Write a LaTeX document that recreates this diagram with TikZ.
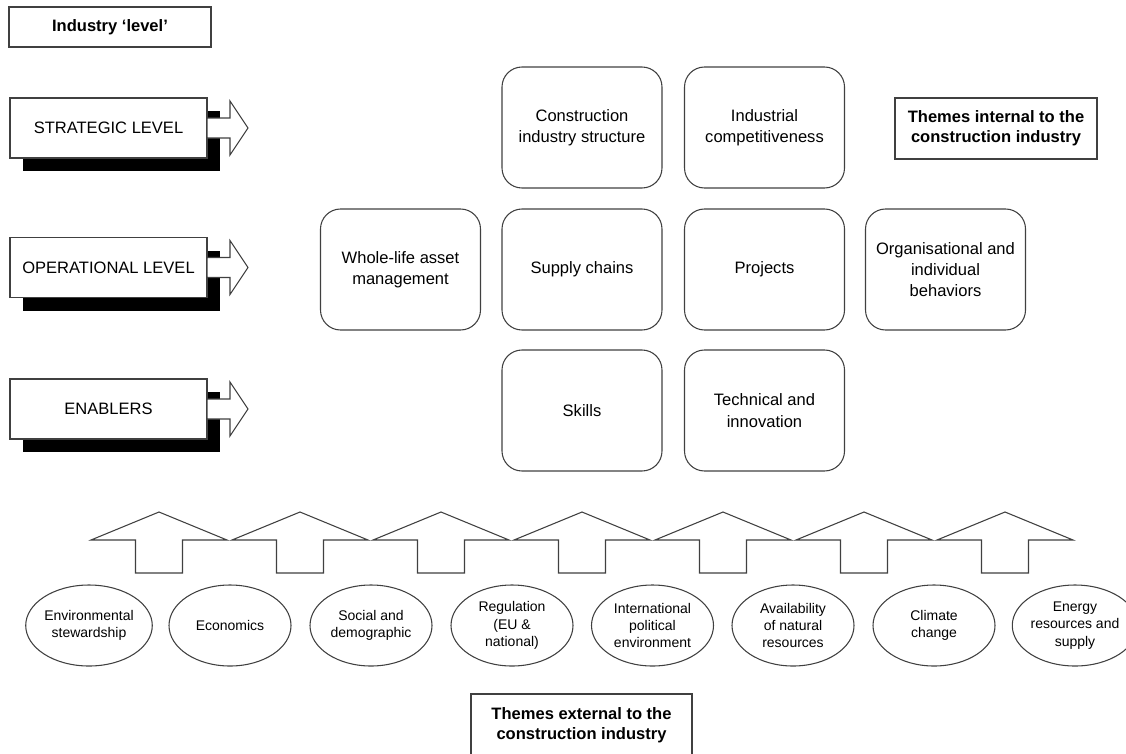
\documentclass[tikz,border=0pt]{standalone}
\usepackage{fontspec}
\setmainfont{Liberation Sans}
\usepackage{tikz}
\usetikzlibrary{shapes.geometric}
\definecolor{linegray}{RGB}{64,64,64}

\tikzset{
  labelbox/.style={draw=linegray,line width=.8pt,fill=white,align=center,inner sep=0pt,
    minimum width=151.5pt,font=\bfseries\fontsize{12.4}{15}\selectfont},
  levelbox/.style={draw=linegray,line width=.8pt,fill=white,inner sep=0pt,
    minimum width=147.75pt,minimum height=45pt,font=\fontsize{12.4}{15}\selectfont},
  themebox/.style={draw=linegray,line width=.8pt,rounded corners=15pt,align=center,inner sep=0pt,
    minimum width=120pt,minimum height=90.75pt,font=\fontsize{12.4}{16}\selectfont},
  driver/.style={draw=linegray,line width=.8pt,ellipse,align=center,inner sep=0pt,
    minimum width=91.5pt,minimum height=60.75pt,font=\fontsize{10.5}{13}\selectfont},
  levelarrow/.style={draw=linegray,line width=.8pt,fill=white,line join=miter},
  uparrow/.style={draw=linegray,line width=.8pt,fill=white,line join=miter}
}

\begin{document}
\begin{tikzpicture}[x=.75pt,y=-.75pt]
  \useasboundingbox (0,0) rectangle (1126,753);
  \node[labelbox,minimum height=30pt] (industry) at (110,27) {Industry `level'};
  % levels on the left, with their shadows and arrows
  \fill[black] (23,111) rectangle (220,171);
  \node[levelbox] (strategic) at (108.5,128) {STRATEGIC LEVEL};
  \filldraw[levelarrow] (207,118) -- (230,118) -- (230,101) -- (248,128) -- (230,155) -- (230,138) -- (207,138) -- cycle;
  \fill[black] (23,250.5) rectangle (220,310.5);
  \node[levelbox] (operational) at (108.5,267.5) {OPERATIONAL LEVEL};
  \filldraw[levelarrow] (207,257.5) -- (230,257.5) -- (230,240.5) -- (248,267.5) -- (230,294.5) -- (230,277.5) -- (207,277.5) -- cycle;
  \fill[black] (23,392) rectangle (220,452);
  \node[levelbox] (enablers) at (108.5,409) {ENABLERS};
  \filldraw[levelarrow] (207,399) -- (230,399) -- (230,382) -- (248,409) -- (230,436) -- (230,419) -- (207,419) -- cycle;
  % internal themes
  \node[themebox] (structure) at (582,127.5) {Construction\\industry structure};
  \node[themebox] (competitive) at (764.5,127.5) {Industrial\\competitiveness};
  \node[labelbox,minimum height=45.75pt] (internal) at (996,128.5) {Themes internal to the\\construction industry};
  \node[themebox] (asset) at (400.5,269.5) {Whole-life asset\\management};
  \node[themebox] (supply) at (582,269.5) {Supply chains};
  \node[themebox] (projects) at (764.5,269.5) {Projects};
  \node[themebox] (behaviour) at (945.5,269.5) {Organisational and\\individual\\behaviors};
  \node[themebox] (skills) at (582,410.5) {Skills};
  \node[themebox] (technical) at (764.5,410.5) {Technical and\\innovation};
  % arrows up from the external themes
  \filldraw[uparrow] (91,540) -- ++(68,-28) -- ++(68,28) -- ++(-44.5,0) -- ++(0,33) -- ++(-47,0) -- ++(0,-33) -- cycle;
  \filldraw[uparrow] (232,540) -- ++(68,-28) -- ++(68,28) -- ++(-44.5,0) -- ++(0,33) -- ++(-47,0) -- ++(0,-33) -- cycle;
  \filldraw[uparrow] (373,540) -- ++(68,-28) -- ++(68,28) -- ++(-44.5,0) -- ++(0,33) -- ++(-47,0) -- ++(0,-33) -- cycle;
  \filldraw[uparrow] (514,540) -- ++(68,-28) -- ++(68,28) -- ++(-44.5,0) -- ++(0,33) -- ++(-47,0) -- ++(0,-33) -- cycle;
  \filldraw[uparrow] (655,540) -- ++(68,-28) -- ++(68,28) -- ++(-44.5,0) -- ++(0,33) -- ++(-47,0) -- ++(0,-33) -- cycle;
  \filldraw[uparrow] (796,540) -- ++(68,-28) -- ++(68,28) -- ++(-44.5,0) -- ++(0,33) -- ++(-47,0) -- ++(0,-33) -- cycle;
  \filldraw[uparrow] (937,540) -- ++(68,-28) -- ++(68,28) -- ++(-44.5,0) -- ++(0,33) -- ++(-47,0) -- ++(0,-33) -- cycle;
  % external themes
  \node[driver] (environment) at (89,625.5) {Environmental\\stewardship};
  \node[driver] (economics) at (230,625.5) {Economics};
  \node[driver] (social) at (371,625.5) {Social and\\demographic};
  \node[driver] (regulation) at (512,625.5) {Regulation\\(EU \&\\national)};
  \node[driver] (political) at (652.5,625.5) {International\\political\\environment};
  \node[driver] (resources) at (793,625.5) {Availability\\of natural\\resources};
  \node[driver] (climate) at (934,625.5) {Climate\\change};
  \node[driver] (energy) at (1075,625.5) {Energy\\resources and\\supply};
  \node[labelbox,minimum width=165.75pt,minimum height=46.5pt] (external) at (581.5,725) {Themes external to the\\construction industry};
\end{tikzpicture}
\end{document}
